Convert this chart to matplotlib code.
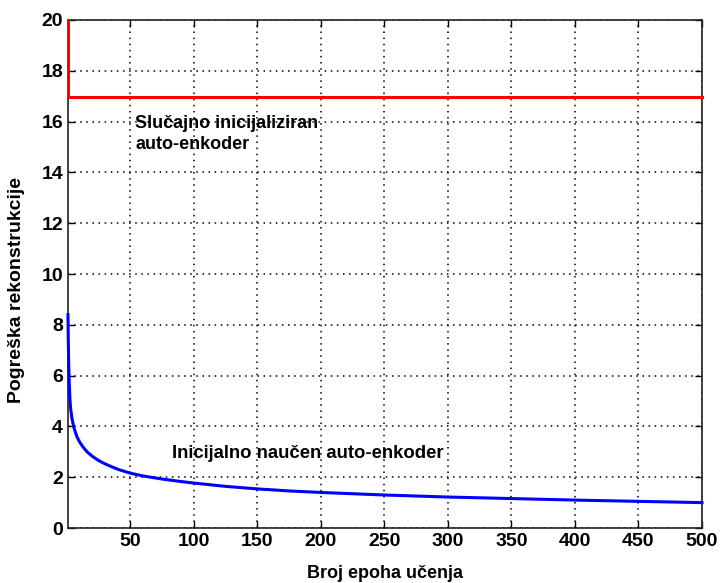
import matplotlib
matplotlib.use("Agg")
import matplotlib.pyplot as plt

plt.rcParams['font.family'] = ['Liberation Sans', 'DejaVu Sans']
plt.rcParams['font.weight'] = 'bold'

# random init auto-encoder (red)
epohe_slucajno = [1, 1, 500]
greska_slucajno = [20.0, 16.96, 16.96]

# pretrained auto-encoder (blue)
epohe_naucen = [1, 1.3, 1.6, 2, 2.5, 3, 4, 5, 6, 8, 10, 13, 16, 20, 25, 30,
                35, 41, 50, 60, 75, 90, 100, 125, 150, 175, 200, 250, 300,
                350, 400, 450, 500]
greska_naucen = [8.4, 7.2, 6.4, 5.7, 5.1, 4.75, 4.35, 4.1, 3.9, 3.6, 3.4,
                 3.18, 3.0, 2.83, 2.66, 2.53, 2.42, 2.3, 2.16, 2.05, 1.93,
                 1.83, 1.77, 1.64, 1.54, 1.46, 1.40, 1.30, 1.22, 1.16, 1.10,
                 1.05, 1.0]

x_ticks = [50, 100, 150, 200, 250, 300, 350, 400, 450, 500]
y_ticks = [0, 2, 4, 6, 8, 10, 12, 14, 16, 18, 20]

fig = plt.figure(figsize=(7.2, 5.83), dpi=100)
ax = fig.add_axes([0.0944, 0.0943, 0.8806, 0.8714])

ax.plot(epohe_slucajno, greska_slucajno, color='red', linewidth=2.2,
        clip_on=False, zorder=4)
ax.plot(epohe_naucen, greska_naucen, color='blue', linewidth=2.2,
        clip_on=False, zorder=4)

ax.set_xlim(1, 500)
ax.set_ylim(0, 20)
ax.set_xticks(x_ticks)
ax.set_yticks(y_ticks)
ax.grid(True, linestyle=(0, (1, 3)), color='black', linewidth=1.1)
ax.tick_params(direction='in', top=True, right=True, length=5,
               labelsize=14, width=1)
for s in ax.spines.values():
    s.set_linewidth(1.2)
    s.set_color('#222222')

ax.text(54, 15.5, 'Slučajno inicijaliziran\nauto-enkoder', fontsize=13,
        fontweight='bold', va='center', ha='left', linespacing=1.3)
ax.text(83, 2.94, 'Inicijalno naučen auto-enkoder', fontsize=13.3,
        fontweight='bold', va='center', ha='left')

ax.set_xlabel('Broj epoha učenja', fontsize=13, fontweight='bold')
ax.set_ylabel('Pogreška rekonstrukcije', fontsize=14, fontweight='bold')
ax.xaxis.set_label_coords(0.5, -0.072)
ax.yaxis.set_label_coords(-0.068, 0.468)

fig.savefig('out.png', dpi=100)
